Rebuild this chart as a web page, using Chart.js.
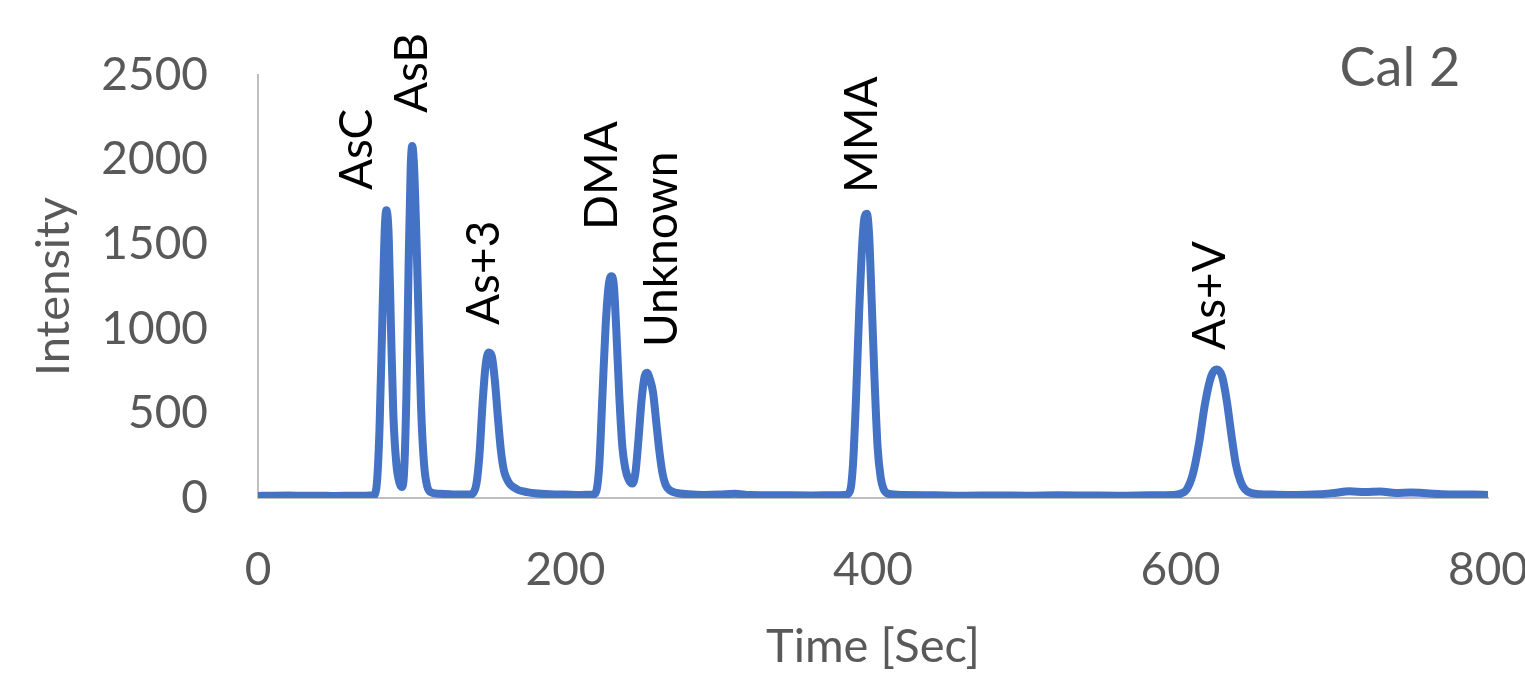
<!DOCTYPE html>
<html>
<head>
<meta charset="utf-8">
<script src="https://cdn.jsdelivr.net/npm/chart.js@4.4.1/dist/chart.umd.min.js"></script>
<style>
  html, body { margin: 0; padding: 0; background: #ffffff; }
  #wrap { width: 1525px; height: 679px; position: relative; }
</style>
</head>
<body>
<div id="wrap"><canvas id="c" width="1525" height="679"></canvas></div>
<script>
// ---- data ----
const times = [
  0, 10, 20, 30, 40, 50, 60, 70, 75,
  77, 79, 81, 82.5, 83.5, 85, 86.5, 88, 90, 92, 93.5,
  95, 96.5, 98, 99.3, 100.3, 101.5, 103, 104.5, 106, 108, 110, 113, 118, 125, 132, 138,
  140, 142, 144, 146, 148, 150, 152, 154, 156, 158, 160, 162, 164, 167, 170, 175, 180, 190, 200, 210, 218,
  220, 222, 224, 226, 228, 229.8, 231.5, 233, 235, 237, 239, 241, 243.5,
  245.5, 247.5, 249.5, 251.5, 253, 255, 257, 259, 261, 263, 265, 268, 272, 280, 290, 300, 310, 320, 340, 360, 375, 382,
  385, 387, 389, 391, 393, 394.5, 396, 397.5, 399, 401, 403, 405, 407, 410, 420, 440, 460, 480, 500, 520, 540, 560, 580, 595, 600,
  604, 608, 612, 616, 620, 623.5, 627, 630, 633, 636, 639, 642, 646, 652, 660, 675, 690, 700, 710, 720, 730, 740, 750, 760, 770, 780, 790, 800
];
const intensity = [
  12, 14, 15, 13, 14, 12, 13, 14, 16,
  60, 400, 1100, 1600, 1700, 1550, 1000, 500, 200, 90, 65,
  150, 600, 1400, 1950, 2080, 1960, 1550, 1050, 550, 200, 70, 32, 25, 22, 20, 20,
  30, 80, 250, 550, 780, 860, 840, 700, 480, 280, 160, 110, 80, 60, 45, 35, 28, 22, 20, 18, 20,
  40, 200, 600, 1000, 1250, 1310, 1250, 1000, 600, 300, 170, 110, 85,
  150, 350, 580, 720, 740, 700, 620, 450, 280, 150, 80, 45, 30, 22, 18, 20, 25, 18, 16, 15, 16, 18,
  40, 200, 600, 1100, 1500, 1660, 1680, 1550, 1200, 700, 300, 120, 50, 25, 18, 16, 14, 15, 14, 16, 15, 14, 16, 18, 25,
  50, 140, 320, 560, 720, 760, 720, 580, 380, 200, 100, 50, 30, 22, 20, 18, 22, 30, 40, 35, 38, 30, 32, 28, 22, 20, 20, 18
];
const xTicks = [0, 200, 400, 600, 800];
const yTicks = [0, 500, 1000, 1500, 2000, 2500];
const peakNames = ['AsC', 'AsB', 'As+3', 'DMA', 'Unknown', 'MMA', 'As+V'];
const peakLabelTimes = [64.4, 100.2, 147, 223.7, 262.8, 392.8, 619];
const peakLabelIntensities = [1820, 2275, 1022, 1584, 892, 1803, 875];
const sampleName = 'Cal 2';

const FONT = 'Lato, "Open Sans", sans-serif';

const labelPlugin = {
  id: 'peakLabels',
  afterDatasetsDraw(chart) {
    const ctx = chart.ctx;
    const xs = chart.scales.x, ys = chart.scales.y;
    ctx.save();
    ctx.fillStyle = '#000000';
    ctx.font = '46px ' + FONT;
    ctx.textAlign = 'left';
    ctx.textBaseline = 'middle';
    peakNames.forEach((name, i) => {
      const px = xs.getPixelForValue(peakLabelTimes[i]);
      const py = ys.getPixelForValue(peakLabelIntensities[i]);
      ctx.save();
      ctx.translate(px, py);
      ctx.rotate(-Math.PI / 2);
      ctx.fillText(name, 0, 0);
      ctx.restore();
    });
    ctx.fillStyle = '#595959';
    ctx.font = '54px ' + FONT;
    ctx.textAlign = 'right';
    ctx.textBaseline = 'middle';
    ctx.fillText(sampleName, xs.getPixelForValue(782), ys.getPixelForValue(2540));
    ctx.restore();
  }
};

new Chart(document.getElementById('c'), {
  type: 'line',
  data: {
    datasets: [{
      data: times.map((t, i) => ({ x: t, y: intensity[i] })),
      borderColor: '#4472C4',
      borderWidth: 8,
      pointRadius: 0,
      tension: 0.4,
      cubicInterpolationMode: 'monotone',
      fill: false
    }]
  },
  options: {
    responsive: false,
    animation: false,
    layout: { padding: { top: 75, right: 37, left: 0, bottom: 0 } },
    plugins: { legend: { display: false }, tooltip: { enabled: false } },
    scales: {
      x: {
        type: 'linear',
        min: 0, max: 800,
        afterBuildTicks(scale) { scale.ticks = xTicks.map(v => ({ value: v })); },
        afterFit(scale) { scale.height = 181; scale.paddingLeft = 0; scale.paddingRight = 0; },
        grid: { display: true, drawOnChartArea: false, drawTicks: false, color: 'rgba(0,0,0,0)' },
        border: { display: true, color: '#bfbfbf', width: 2 },
        ticks: { color: '#595959', font: { family: FONT, size: 46 }, padding: 45, maxRotation: 0,
                 callback: v => String(v) },
        title: { display: true, text: 'Time [Sec]', color: '#595959', font: { family: FONT, size: 47 }, padding: { top: 0, bottom: 4 } }
      },
      y: {
        type: 'linear',
        min: 0, max: 2500,
        afterBuildTicks(scale) { scale.ticks = yTicks.map(v => ({ value: v })); },
        afterFit(scale) { scale.width = 258; scale.paddingTop = 0; scale.paddingBottom = 0; },
        grid: { display: true, drawOnChartArea: false, drawTicks: false, color: 'rgba(0,0,0,0)' },
        border: { display: true, color: '#bfbfbf', width: 2 },
        ticks: { color: '#595959', font: { family: FONT, size: 46 }, padding: 50,
                 callback: v => String(v) },
        title: { display: true, text: 'Intensity', color: '#595959', font: { family: FONT, size: 47 }, padding: { top: 26, bottom: 0 } }
      }
    }
  },
  plugins: [labelPlugin]
});
</script>
</body>
</html>
